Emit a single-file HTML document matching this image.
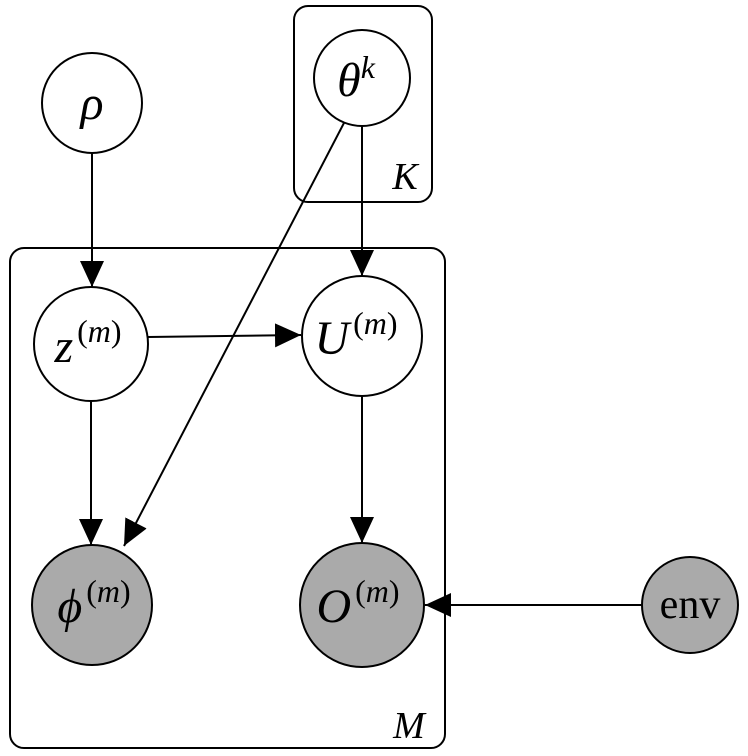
<!DOCTYPE html>
<html><head><style>body{margin:0;background:#fff}svg{display:block}</style></head><body>
<svg width="748" height="756" viewBox="0 0 748 756" xmlns="http://www.w3.org/2000/svg" font-family="Liberation Serif, serif">
<defs><marker id="a" markerWidth="26" markerHeight="24" refX="26" refY="12" orient="auto" markerUnits="userSpaceOnUse"><path d="M0,0 L26,12 L0,24 Z" fill="#000"/></marker></defs>
<g fill="none" stroke="#000" stroke-width="2">
<rect x="294" y="6" width="138" height="196" rx="14"/>
<rect x="10" y="248" width="435" height="500" rx="14"/>
</g>
<g stroke="#000" stroke-width="2" fill="none">
<line x1="92" y1="153" x2="92" y2="287" marker-end="url(#a)"/>
<line x1="362" y1="126" x2="362" y2="276" marker-end="url(#a)"/>
<line x1="345" y1="121" x2="124" y2="546" marker-end="url(#a)"/>
<line x1="148" y1="337" x2="301" y2="335" marker-end="url(#a)"/>
<line x1="91" y1="400" x2="91" y2="545" marker-end="url(#a)"/>
<line x1="362" y1="396" x2="362" y2="543" marker-end="url(#a)"/>
<line x1="642" y1="605" x2="425" y2="605" marker-end="url(#a)"/>
</g>
<g stroke="#000" stroke-width="2">
<circle cx="92" cy="103" r="50" fill="#fff"/>
<circle cx="362" cy="78" r="48" fill="#fff"/>
<circle cx="91" cy="344" r="57" fill="#fff"/>
<circle cx="362" cy="336" r="60" fill="#fff"/>
<circle cx="92" cy="605" r="60" fill="#aaa"/>
<circle cx="362" cy="605" r="62" fill="#aaa"/>
<circle cx="690" cy="605" r="48" fill="#aaa"/>
</g>
<g font-size="48" fill="#000" text-anchor="middle">
<text x="92" y="119" font-style="italic">ρ</text>
<text x="356" y="96"><tspan font-style="italic">θ</tspan><tspan font-size="32" dy="-18" font-style="italic">k</tspan></text>
<text x="88" y="362"><tspan font-style="italic">z</tspan><tspan font-size="32" dy="-20" dx="4">(<tspan font-style="italic">m</tspan>)</tspan></text>
<text x="356" y="354"><tspan font-style="italic">U</tspan><tspan font-size="32" dy="-20" dx="4">(<tspan font-style="italic">m</tspan>)</tspan></text>
<text x="94" y="622"><tspan font-style="italic">ϕ</tspan><tspan font-size="32" dy="-20" dx="4">(<tspan font-style="italic">m</tspan>)</tspan></text>
<text x="358" y="622"><tspan font-style="italic">O</tspan><tspan font-size="32" dy="-20" dx="4">(<tspan font-style="italic">m</tspan>)</tspan></text>
<text x="405" y="189" font-size="38" font-style="italic">K</text>
<text x="409" y="738" font-size="38" font-style="italic">M</text>
</g>
<text x="690" y="618" font-size="42" text-anchor="middle">env</text>
</svg>
</body></html>
